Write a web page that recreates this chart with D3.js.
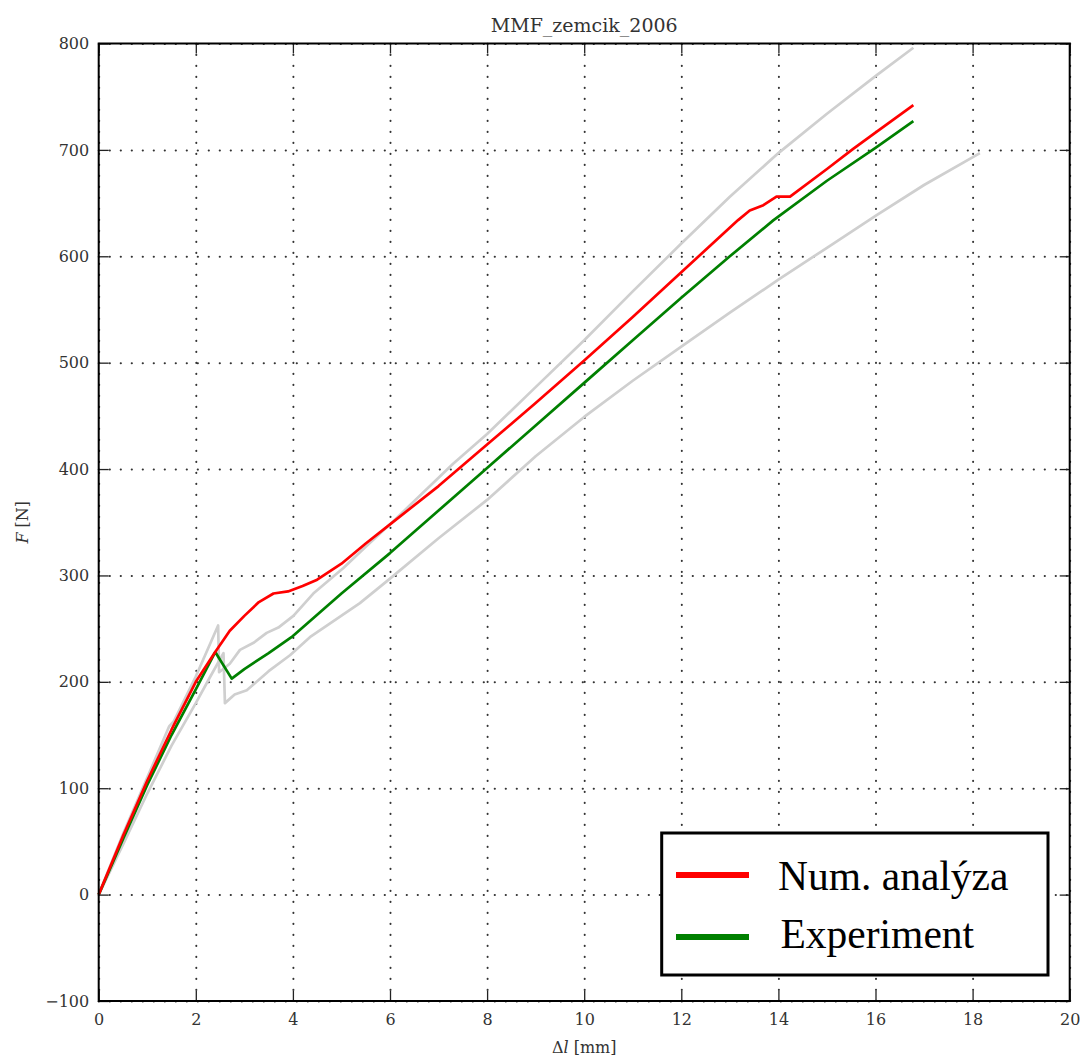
<!DOCTYPE html>
<html>
<head>
<meta charset="utf-8">
<script src="https://cdn.jsdelivr.net/npm/d3@7"></script>
<style>
  html, body { margin: 0; padding: 0; background: #fff; }
  svg { display: block; }
</style>
</head>
<body>
<svg id="chart" width="1085" height="1059"></svg>
<script>
// Numerical analysis curve: elongation [mm] and force [N]
const numX = [0, 0.5, 1, 1.5, 2, 2.4, 2.7, 3.0, 3.3, 3.6, 3.9, 4.2, 4.5, 5.0, 5.5, 6, 7, 8, 9, 10, 11, 12, 13.17, 13.41, 13.69, 13.96, 14.24, 15, 15.54, 16.02, 16.78];
const numF = [0, 55, 107, 155, 200, 228, 248, 262, 275, 283, 285, 290, 296, 311, 330, 348, 384, 423, 462, 502, 543, 585, 634, 643, 648, 656, 656, 682, 701, 717, 742];

// Experimental curve
const expX = [0, 0.5, 1, 1.5, 2, 2.4, 2.74, 3, 3.5, 4, 5, 6, 7, 8, 9, 10, 11, 12, 13, 13.9, 15, 16, 16.78];
const expF = [0, 52, 103, 150, 193, 228, 203, 212, 227, 243, 283, 321, 361, 401, 441, 481, 521, 561, 600, 634, 671, 702, 727];

// Scatter band of the experiments (upper and lower bound)
const upX = [0, 0.5, 1, 1.45, 1.55, 2, 2.46, 2.48, 2.7, 2.91, 3.2, 3.46, 3.7, 4.01, 4.42, 5.04, 5.5, 6, 7.3, 8, 9, 10, 11, 12, 13, 14, 15, 16.02, 16.78];
const upF = [0, 57, 110, 158, 163, 205, 253, 209, 217, 230, 237, 246, 251, 262, 283, 307, 327, 348, 405, 433, 477, 521, 567, 612, 656, 697, 734, 770, 796];

const loX = [0, 0.5, 1, 1.5, 2, 2.3, 2.57, 2.6, 2.8, 3.05, 3.5, 3.94, 4.35, 5.38, 6, 7, 8, 9, 10, 11, 12, 13, 14, 15, 16, 17, 18.15];
const loF = [0, 47, 95, 140, 180, 205, 227, 180, 188, 192, 210, 225, 242, 274, 297, 335, 371, 412, 449, 483, 515, 547, 578, 608, 638, 667, 697];

// Axis ticks
const xTicks = [0, 2, 4, 6, 8, 10, 12, 14, 16, 18, 20];
const yTicks = [-100, 0, 100, 200, 300, 400, 500, 600, 700, 800];

const legendItems = [
  { label: "Num. analýza", color: "#ff0000" },
  { label: "Experiment", color: "#008000" }
];

const svg = d3.select("#chart");
const L = 98.7, R = 1069.7, T = 43.5, B = 1001;
const W = R - L, H = B - T;

const x = d3.scaleLinear().domain([0, 20]).range([L, R]);
const y = d3.scaleLinear().domain([-100, 800]).range([B, T]);

const tickFont = "DejaVu Serif, serif";

// Dotted grid
const grid = svg.append("g").attr("class", "grid");
grid.append("g")
  .attr("transform", `translate(0,${B})`)
  .call(d3.axisBottom(x).tickValues(xTicks).tickSize(-H).tickFormat(""))
  .call(g => g.select(".domain").remove());
grid.append("g")
  .attr("transform", `translate(${L},0)`)
  .call(d3.axisLeft(y).tickValues(yTicks).tickSize(-W).tickFormat(""))
  .call(g => g.select(".domain").remove());
grid.selectAll("line")
  .attr("stroke", "#333")
  .attr("stroke-width", 2)
  .attr("stroke-linecap", "round")
  .attr("stroke-dasharray", "0.2,10.8");

// Curves
const line = d3.line().x(d => x(d[0])).y(d => y(d[1]));
const zip = (a, b) => a.map((v, i) => [v, b[i]]);
const plot = svg.append("g");
[[upX, upF], [loX, loF]].forEach(([a, b]) => {
  plot.append("path").datum(zip(a, b))
    .attr("fill", "none").attr("stroke", "#cfcfcf").attr("stroke-width", 2.7)
    .attr("stroke-linejoin", "round").attr("d", line);
});
plot.append("path").datum(zip(expX, expF))
  .attr("fill", "none").attr("stroke", "#008000").attr("stroke-width", 2.7)
  .attr("stroke-linejoin", "round").attr("d", line);
plot.append("path").datum(zip(numX, numF))
  .attr("fill", "none").attr("stroke", "#ff0000").attr("stroke-width", 2.7)
  .attr("stroke-linejoin", "round").attr("d", line);

// Axes with inward ticks on all four sides
const tickLen = 10;
const axB = svg.append("g").attr("transform", `translate(0,${B})`)
  .call(d3.axisBottom(x).tickValues(xTicks).tickSizeInner(-tickLen).tickSizeOuter(0).tickPadding(0).tickFormat(d3.format("d")));
axB.selectAll("text").attr("dy", null).attr("y", 24);
const axT = svg.append("g").attr("transform", `translate(0,${T})`)
  .call(d3.axisTop(x).tickValues(xTicks).tickSizeInner(-tickLen).tickSizeOuter(0).tickFormat(""));
const axL = svg.append("g").attr("transform", `translate(${L},0)`)
  .call(d3.axisLeft(y).tickValues(yTicks).tickSizeInner(-tickLen).tickSizeOuter(0).tickPadding(0).tickFormat(d3.format("d")));
axL.selectAll("text").attr("x", -9.5);
const axR = svg.append("g").attr("transform", `translate(${R},0)`)
  .call(d3.axisRight(y).tickValues(yTicks).tickSizeInner(-tickLen).tickSizeOuter(0).tickFormat(""));

[axB, axT, axL, axR].forEach(g => {
  g.select(".domain").remove();
  g.selectAll(".tick line").attr("stroke", "#222").attr("stroke-width", 1.3);
  g.selectAll("text").attr("font-family", tickFont).attr("font-size", 16).attr("fill", "#333");
});

// Frame
svg.append("rect")
  .attr("x", L).attr("y", T).attr("width", W).attr("height", H)
  .attr("fill", "none").attr("stroke", "#000").attr("stroke-width", 2);

// Title and axis labels
svg.append("text")
  .attr("x", (L + R) / 2).attr("y", 31.5)
  .attr("text-anchor", "middle")
  .attr("font-family", tickFont).attr("font-size", 19).attr("fill", "#333")
  .text("MMF_zemcik_2006");

const xl = svg.append("text")
  .attr("x", (L + R) / 2).attr("y", 1053)
  .attr("text-anchor", "middle")
  .attr("font-family", tickFont).attr("font-size", 16).attr("fill", "#333");
xl.append("tspan").text("Δ");
xl.append("tspan").attr("font-style", "italic").text("l");
xl.append("tspan").text(" [mm]");

const yl = svg.append("text")
  .attr("transform", `translate(28,${(T + B) / 2}) rotate(-90)`)
  .attr("text-anchor", "middle")
  .attr("font-family", tickFont).attr("font-size", 16).attr("fill", "#333");
yl.append("tspan").attr("font-style", "italic").text("F");
yl.append("tspan").text(" [N]");

// Legend
const lg = svg.append("g");
lg.append("rect")
  .attr("x", 661.7).attr("y", 833).attr("width", 386.3).attr("height", 142)
  .attr("fill", "#fff").attr("stroke", "#000").attr("stroke-width", 3);
const rows = [{ ly: 875, ty: 890 }, { ly: 937, ty: 948 }];
legendItems.forEach((it, i) => {
  lg.append("line")
    .attr("x1", 676).attr("x2", 749).attr("y1", rows[i].ly).attr("y2", rows[i].ly)
    .attr("stroke", it.color).attr("stroke-width", 6);
  lg.append("text")
    .attr("x", i === 0 ? 778 : 780.5).attr("y", rows[i].ty)
    .attr("font-family", "Liberation Serif, Times New Roman, serif")
    .attr("font-size", 41.5).attr("fill", "#000")
    .text(it.label);
});
</script>
</body>
</html>
